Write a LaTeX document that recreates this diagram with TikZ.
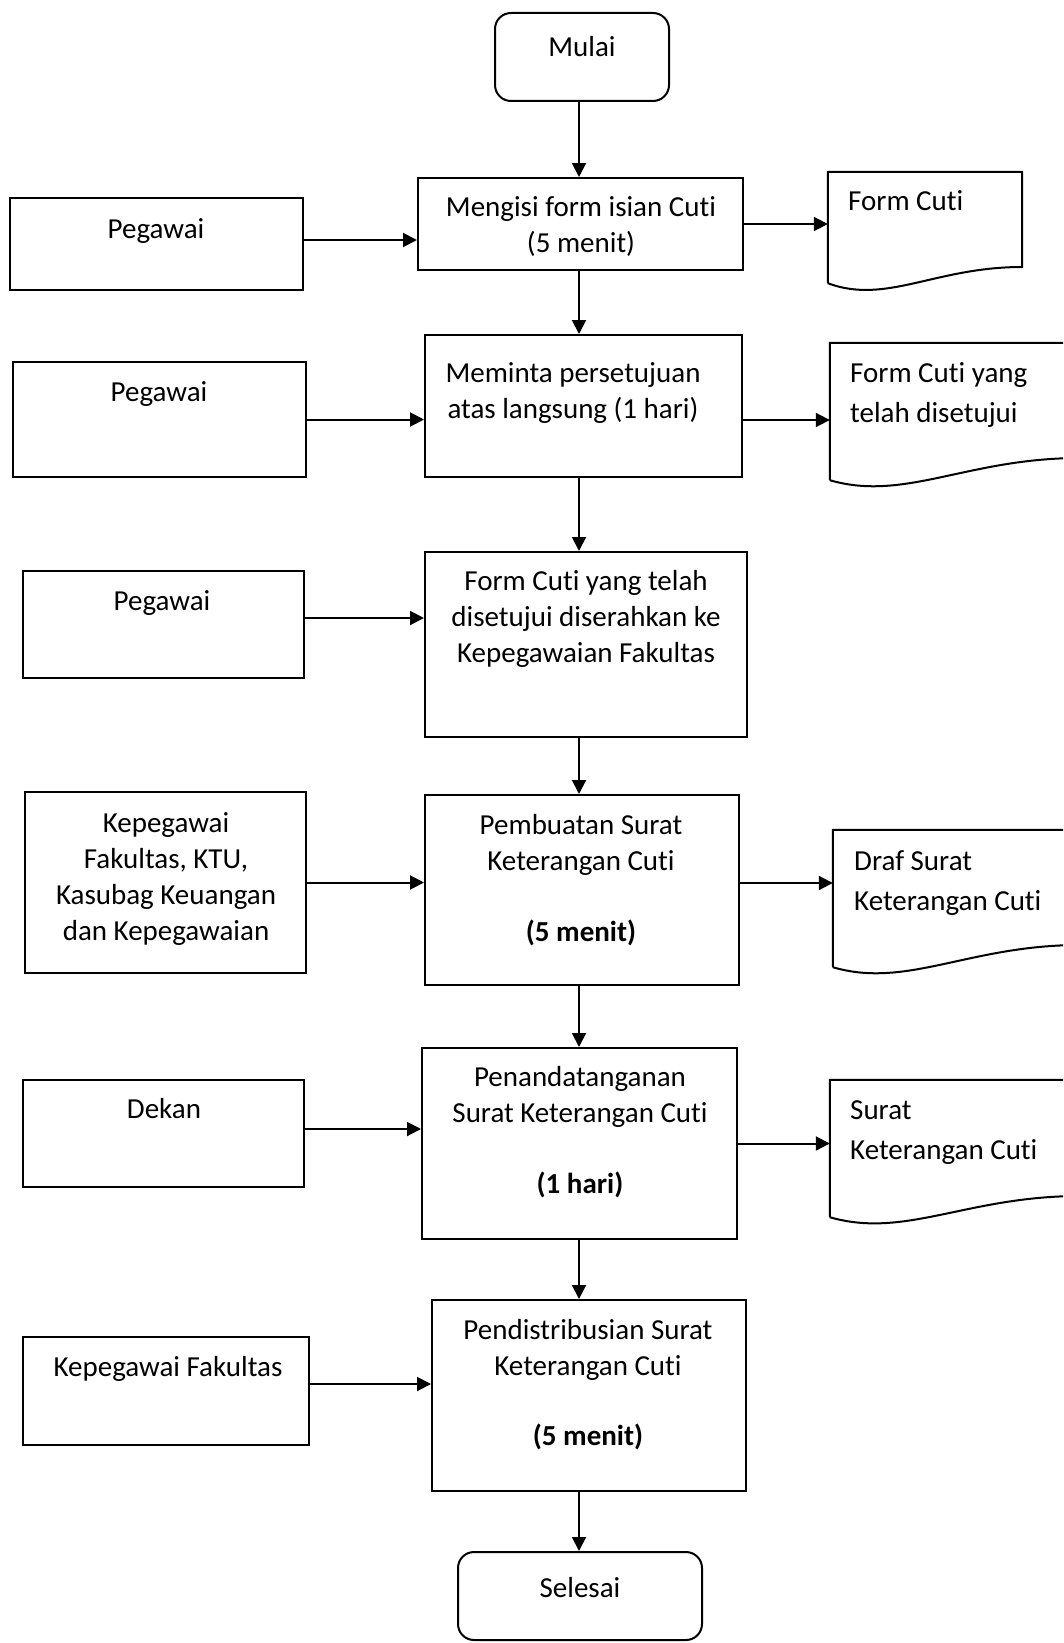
\documentclass[tikz,border=0pt]{standalone}
\usepackage{fontspec}
\setmainfont{Carlito}[Ligatures=NoCommon]
\usetikzlibrary{arrows.meta,calc}
\newcommand{\diafont}{\fontsize{29}{36}\selectfont}
\begin{document}
\begin{tikzpicture}[x=1pt,y=-1pt,
  box/.style={draw, line width=2pt, inner sep=0pt, rectangle},
  term/.style={box, rounded corners=16pt},
  docarea/.style={inner sep=0pt, rectangle},
  txt/.style={inner sep=0pt, anchor=north, align=center, font=\diafont, execute at begin node=\strut},
  dtxt/.style={inner sep=0pt, anchor=north west, align=left, font=\diafont, execute at begin node=\strut},
  arr/.style={line width=2pt, -{Triangle[length=14pt,width=14pt]}},
  docline/.style={line width=2pt, line join=miter}]
\useasboundingbox (0,0) rectangle (1063,1643);
\clip (0,0) rectangle (1063,1643);
\coordinate (ax) at (579,0);

% centre column
\node[term, minimum width=174pt, minimum height=88pt] (mulai) at (582,57) {};
\node[txt] (tmulai) at (582,31) {Mulai};
\node[box, minimum width=325pt, minimum height=92pt] (b1) at (580.5,224) {};
\node[txt] (tb1) at (581,196) {Mengisi form isian Cuti\\(5 menit)};
\node[box, minimum width=317pt, minimum height=142pt] (b2) at (583.5,406) {};
\node[txt] (tb2) at (573,362) {Meminta persetujuan\\atas langsung (1 hari)};
\node[box, minimum width=322pt, minimum height=185pt] (b3) at (586,644.5) {};
\node[txt] (tb3) at (586,570) {Form Cuti yang telah\\disetujui diserahkan ke\\Kepegawaian Fakultas};
\node[box, minimum width=314pt, minimum height=190pt] (b4) at (582,890) {};
\node[txt] (tb4) at (581,814) {Pembuatan Surat\\Keterangan Cuti\\[35pt]\textbf{(5 menit)}};
\node[box, minimum width=315pt, minimum height=191pt] (b5) at (579.5,1143.5) {};
\node[txt] (tb5) at (580,1066) {Penandatanganan\\Surat Keterangan Cuti\\[35pt]\textbf{(1 hari)}};
\node[box, minimum width=314pt, minimum height=191pt] (b6) at (589,1395.5) {};
\node[txt] (tb6) at (588,1319) {Pendistribusian Surat\\Keterangan Cuti\\[34pt]\textbf{(5 menit)}};
\node[term, minimum width=244pt, minimum height=88pt] (selesai) at (580,1596) {};
\node[txt] (tselesai) at (580,1572) {Selesai};

% left column
\node[box, minimum width=293pt, minimum height=92pt] (p1) at (156.5,244) {};
\node[txt] (tp1) at (156,213) {Pegawai};
\node[box, minimum width=293pt, minimum height=115pt] (p2) at (159.5,419.5) {};
\node[txt] (tp2) at (159,376) {Pegawai};
\node[box, minimum width=281pt, minimum height=107pt] (p3) at (163.5,624.5) {};
\node[txt] (tp3) at (162,585) {Pegawai};
\node[box, minimum width=281pt, minimum height=181pt] (p4) at (165.5,882.5) {};
\node[txt] (tp4) at (166,812) {Kepegawai\\Fakultas, KTU,\\Kasubag Keuangan\\dan Kepegawaian};
\node[box, minimum width=281pt, minimum height=107pt] (p5) at (163.5,1133.5) {};
\node[txt] (tp5) at (164,1093) {Dekan};
\node[box, minimum width=286pt, minimum height=108pt] (p6) at (166,1391) {};
\node[txt] (tp6) at (168,1351) {Kepegawai Fakultas};

% documents (area nodes, shapes drawn below)
\node[docarea, minimum width=194pt, minimum height=111pt] (d1) at (925,227.5) {};
\node[docarea, minimum width=250pt, minimum height=137pt] (d2) at (955,411.5) {};
\node[docarea, minimum width=247pt, minimum height=137pt] (d4) at (956.5,898.5) {};
\node[docarea, minimum width=250pt, minimum height=137pt] (d5) at (955,1148.5) {};
\draw[docline] (d1.south west) -- (d1.north west) -- (d1.north east) -- (1022,267)
  .. controls (935,267) and (886,305) .. (d1.south west);
\draw[docline] (d2.south west) -- (d2.north west) -- (d2.north east) -- (1080,458)
  .. controls (967,458) and (905,502) .. (d2.south west);
\draw[docline] (d4.south west) -- (d4.north west) -- (d4.north east) -- (1080,945)
  .. controls (969,945) and (907,989) .. (d4.south west);
\draw[docline] (d5.south west) -- (d5.north west) -- (d5.north east) -- (1080,1196)
  .. controls (967,1196) and (905,1239) .. (d5.south west);
\node[dtxt] (td1) at (848,185) {Form Cuti};
\node[dtxt] (td2) at (850,362) {Form Cuti yang\\[4pt]telah disetujui};
\node[dtxt] (td4) at (854,850) {Draf Surat\\[4pt]Keterangan Cuti};
\node[dtxt] (td5) at (850,1100) {Surat\\[4pt]Keterangan Cuti};

% vertical flow
\draw[arr] (mulai.south -| ax) -- (b1.north -| ax);
\draw[arr] (b1.south -| ax) -- (b2.north -| ax);
\draw[arr] (b2.south -| ax) -- (b3.north -| ax);
\draw[arr] (b3.south -| ax) -- (b4.north -| ax);
\draw[arr] (b4.south -| ax) -- (b5.north -| ax);
\draw[arr] (b5.south -| ax) -- (b6.north -| ax);
\draw[arr] (b6.south -| ax) -- (selesai.north -| ax);

% left inputs
\draw[arr] ([yshift=4pt]p1.east) -- ([yshift=4pt]p1.east -| b1.west);
\draw[arr] (p2.east) -- (p2.east -| b2.west);
\draw[arr] ([yshift=6.5pt]p3.east) -- ([yshift=6.5pt]p3.east -| b3.west);
\draw[arr] (p4.east) -- (p4.east -| b4.west);
\draw[arr] ([yshift=4.5pt]p5.east) -- ([yshift=4.5pt]p5.east -| b5.west);
\draw[arr] ([yshift=7pt]p6.east) -- ([yshift=7pt]p6.east -| b6.west);

% right outputs
\draw[arr] (b1.east) -- (b1.east -| d1.west);
\draw[arr] ([yshift=-14pt]b2.east) -- ([yshift=-14pt]b2.east -| d2.west);
\draw[arr] ([yshift=7pt]b4.east) -- ([yshift=7pt]b4.east -| d4.west);
\draw[arr] (b5.east) -- (b5.east -| d5.west);
\end{tikzpicture}
\end{document}
